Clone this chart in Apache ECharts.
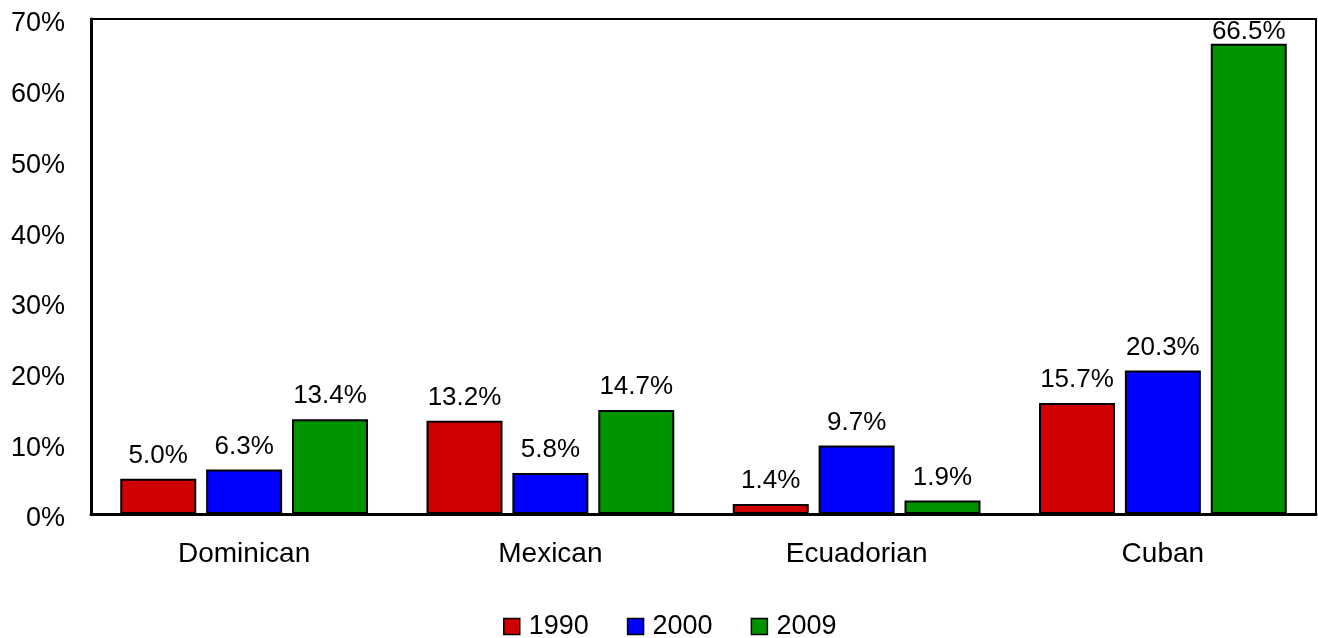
<!DOCTYPE html>
<html>
<head>
<meta charset="utf-8">
<script src="https://cdn.jsdelivr.net/npm/echarts@6/dist/echarts.min.js"></script>
<style>
  html, body { margin: 0; padding: 0; background: #fff; }
  #chart { width: 1318px; height: 638px; }
</style>
</head>
<body>
<div id="chart"></div>
<script>
var categories = ['Dominican', 'Mexican', 'Ecuadorian', 'Cuban'];
var years = ['1990', '2000', '2009'];
var values1990 = [5.0, 13.2, 1.4, 15.7];
var values2000 = [6.3, 5.8, 9.7, 20.3];
var values2009 = [13.4, 14.7, 1.9, 66.5];
var colors = ['#d00000', '#0000ff', '#009300'];

var chartDom = document.getElementById('chart');
var myChart = echarts.init(chartDom);
var option;

function serie(name, data, color) {
    return {
        name: name,
        type: 'bar',
        data: data,
        barWidth: 76,
        barGap: '13%',
        itemStyle: {
            color: color,
            borderColor: '#000',
            borderWidth: 2
        },
        label: {
            show: true,
            position: 'top',
            distance: 10,
            color: '#000',
            fontFamily: 'Liberation Sans',
            fontSize: 26,
            formatter: function (p) {
                return p.value.toFixed(1) + '%';
            }
        },
        // label near the top border is pushed down onto the bar, like the original
        labelLayout: function (p) {
            if (p.labelRect.y < 19) {
                return { dy: 11 };
            }
            return {};
        }
    };
}

option = {
    animation: false,
    textStyle: { fontFamily: 'Liberation Sans' },
    grid: {
        left: 91,
        right: 2,
        top: 19,
        bottom: 124,
        show: true,
        borderColor: '#000',
        borderWidth: 2,
        containLabel: false
    },
    legend: {
        data: years,
        top: 608,
        left: 498,
        itemWidth: 16,
        itemHeight: 16,
        itemGap: 38,
        icon: 'rect',
        textStyle: {
            color: '#000',
            fontSize: 27,
            fontFamily: 'Liberation Sans',
            padding: [0, 0, 0, 4]
        },
        itemStyle: { borderColor: '#000', borderWidth: 1.5 }
    },
    xAxis: {
        type: 'category',
        data: categories,
        axisLine: { lineStyle: { color: '#000', width: 3 } },
        axisTick: { show: false },
        axisLabel: {
            color: '#000',
            fontSize: 28,
            margin: 26
        }
    },
    yAxis: {
        type: 'value',
        min: 0,
        max: 70,
        interval: 10,
        axisLine: { show: true, lineStyle: { color: '#000', width: 3 } },
        axisTick: { show: false },
        splitLine: { show: false },
        axisLabel: {
            color: '#000',
            fontSize: 27,
            margin: 26,
            verticalAlign: 'top',
            lineHeight: 10,
            formatter: '{value}%'
        }
    },
    series: [
        serie(years[0], values1990, colors[0]),
        serie(years[1], values2000, colors[1]),
        serie(years[2], values2009, colors[2])
    ]
};

option && myChart.setOption(option);
</script>
</body>
</html>
